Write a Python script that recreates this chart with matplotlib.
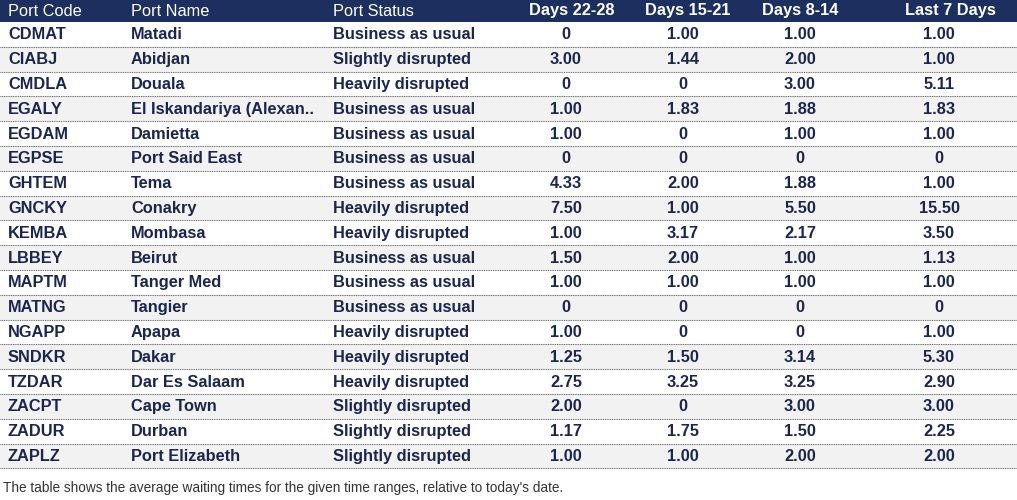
import matplotlib
matplotlib.use('Agg')
import matplotlib.pyplot as plt
from matplotlib.patches import Rectangle

plt.rcParams['font.family'] = 'Liberation Sans'

headers = ['Port Code', 'Port Name', 'Port Status', 'Days 22-28', 'Days 15-21', 'Days 8-14', 'Last 7 Days']
codes = ['CDMAT', 'CIABJ', 'CMDLA', 'EGALY', 'EGDAM', 'EGPSE', 'GHTEM', 'GNCKY', 'KEMBA',
         'LBBEY', 'MAPTM', 'MATNG', 'NGAPP', 'SNDKR', 'TZDAR', 'ZACPT', 'ZADUR', 'ZAPLZ']
names = ['Matadi', 'Abidjan', 'Douala', 'El Iskandariya (Alexan..', 'Damietta', 'Port Said East',
         'Tema', 'Conakry', 'Mombasa', 'Beirut', 'Tanger Med', 'Tangier', 'Apapa', 'Dakar',
         'Dar Es Salaam', 'Cape Town', 'Durban', 'Port Elizabeth']
status = ['Business as usual', 'Slightly disrupted', 'Heavily disrupted', 'Business as usual',
          'Business as usual', 'Business as usual', 'Business as usual', 'Heavily disrupted',
          'Heavily disrupted', 'Business as usual', 'Business as usual', 'Business as usual',
          'Heavily disrupted', 'Heavily disrupted', 'Heavily disrupted', 'Slightly disrupted',
          'Slightly disrupted', 'Slightly disrupted']
d22_28 = [0, 3.00, 0, 1.00, 1.00, 0, 4.33, 7.50, 1.00, 1.50, 1.00, 0, 1.00, 1.25, 2.75, 2.00, 1.17, 1.00]
d15_21 = [1.00, 1.44, 0, 1.83, 0, 0, 2.00, 1.00, 3.17, 2.00, 1.00, 0, 0, 1.50, 3.25, 0, 1.75, 1.00]
d8_14 = [1.00, 2.00, 3.00, 1.88, 1.00, 0, 1.88, 5.50, 2.17, 1.00, 1.00, 0, 0, 3.14, 3.25, 3.00, 1.50, 2.00]
last7 = [1.00, 1.00, 5.11, 1.83, 1.00, 0, 1.00, 15.50, 3.50, 1.13, 1.00, 0, 1.00, 5.30, 2.90, 3.00, 2.25, 2.00]
note = "The table shows the average waiting times for the given time ranges, relative to today's date."

def fmt(v):
    return '0' if v == 0 else f'{v:.2f}'

W, H = 1017, 500
fig = plt.figure(figsize=(W / 100, H / 100), dpi=100)
ax = fig.add_axes([0, 0, 1, 1])
ax.set_xlim(0, W)
ax.set_ylim(H, 0)
ax.axis('off')

navy = '#1c2f5e'
text_col = '#1a2550'
head_h = 22
row_h = 24.8
fs = 11.8
text_x = [8, 131, 333]
num_x = [566, 683, 800, 939]
head_num_x = [572, 688, 800, 950]

ax.add_patch(Rectangle((0, 0), W, head_h, color=navy, lw=0))
for i, h in enumerate(headers):
    if i < 3:
        ax.text(text_x[i], head_h / 2, h, color='white', fontsize=fs, ha='left', va='center')
    else:
        ax.text(head_num_x[i - 3], head_h / 2, h, color='white', fontsize=fs, fontweight='bold',
                ha='center', va='center')

for r in range(len(codes)):
    y0 = head_h + r * row_h
    if r % 2 == 1:
        ax.add_patch(Rectangle((0, y0), W, row_h, color='#f2f2f2', lw=0))
    ax.plot([0, W], [y0 + row_h, y0 + row_h], color='#555555', lw=0.8, ls=(0, (0.8, 0.8)))
    yc = y0 + row_h / 2 + 0.5
    for x, s in zip(text_x, [codes[r], names[r], status[r]]):
        ax.text(x, yc, s, color=text_col, fontsize=fs, fontweight='bold', ha='left', va='center')
    for x, v in zip(num_x, [d22_28[r], d15_21[r], d8_14[r], last7[r]]):
        ax.text(x, yc, fmt(v), color=text_col, fontsize=fs, fontweight='bold', ha='center', va='center')

ax.text(3, 488, note, color='#333333', fontsize=9.8, ha='left', va='center')

fig.savefig('out.png', dpi=100)
